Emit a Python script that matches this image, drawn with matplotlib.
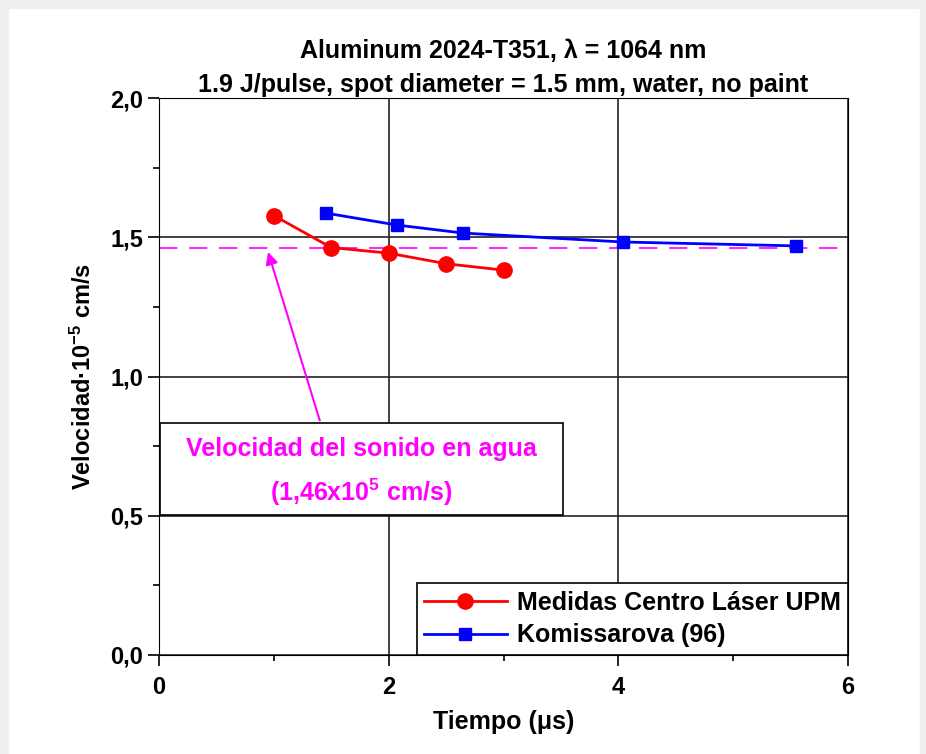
import matplotlib
matplotlib.use("Agg")
import matplotlib.pyplot as plt
from matplotlib.patches import Rectangle
from matplotlib.ticker import MultipleLocator, FuncFormatter

plt.rcParams['font.family'] = ['Liberation Sans', 'DejaVu Sans']
plt.rcParams['font.weight'] = 'bold'
plt.rcParams['mathtext.default'] = 'regular'

# datos
t_upm = [1.0, 1.5, 2.0, 2.5, 3.0]
v_upm = [1.578, 1.463, 1.443, 1.405, 1.382]
t_kom = [1.45, 2.07, 2.65, 4.04, 5.55]
v_kom = [1.587, 1.544, 1.515, 1.483, 1.469]
v_agua = 1.46

fig = plt.figure(figsize=(9.26, 7.54), dpi=100)
# marco gris de la diapositiva
fig.patches.append(Rectangle((0, 0.99), 1, 0.01, transform=fig.transFigure,
                             color='#efefef', zorder=-1))
fig.patches.append(Rectangle((0, 0), 0.009, 1, transform=fig.transFigure,
                             color='#efefef', zorder=-1))
fig.patches.append(Rectangle((0.994, 0), 0.006, 1, transform=fig.transFigure,
                             color='#efefef', zorder=-1))

ax = fig.add_axes([0.1717, 0.1313, 0.7441, 0.7387])
ax.set_xlim(0, 6)
ax.set_ylim(0, 2)

ax.grid(True, which='major', color='#222222', lw=1.2)
ax.axhline(v_agua, color='magenta', lw=1.2, dashes=(11, 7), zorder=2)

ax.plot(t_upm, v_upm, '-o', color='red', lw=2, ms=11, zorder=4,
        label='Medidas Centro Láser UPM')
ax.plot(t_kom, v_kom, '-s', color='blue', lw=2, ms=9, zorder=4,
        label='Komissarova (96)')

ax.xaxis.set_major_locator(MultipleLocator(2))
ax.xaxis.set_minor_locator(MultipleLocator(1))
ax.yaxis.set_major_locator(MultipleLocator(0.5))
ax.yaxis.set_minor_locator(MultipleLocator(0.25))
ax.yaxis.set_major_formatter(FuncFormatter(lambda v, p: f"{v:.1f}".replace('.', ',')))
ax.tick_params(which='major', direction='out', length=8, width=1.2, labelsize=17)
ax.tick_params(axis='x', which='major', pad=7)
ax.tick_params(which='minor', direction='out', length=4, width=1.2)
for lab in ax.get_xticklabels() + ax.get_yticklabels():
    lab.set_fontweight('bold')

ax.set_xlabel('Tiempo (μs)', fontsize=18, fontweight='bold', labelpad=8)
ax.set_ylabel('Velocidad·10$^{-5}$ cm/s', fontsize=17, fontweight='bold', labelpad=10)
ax.set_title('Aluminum 2024-T351, λ = 1064 nm\n1.9 J/pulse, spot diameter = 1.5 mm, water, no paint',
             fontsize=18, fontweight='bold', linespacing=1.55, pad=4)

leg = ax.legend(loc='lower right', fontsize=18, frameon=True, fancybox=False,
                edgecolor='black', borderaxespad=0, handlelength=3.3,
                borderpad=0.3, labelspacing=0.35, handletextpad=0.4)
leg.get_frame().set_linewidth(1.2)
leg.get_frame().set_alpha(1)
for txt in leg.get_texts():
    txt.set_fontweight('bold')

# recuadro de la nota
ax.add_patch(Rectangle((0.01, 0.503), 3.51, 0.330, fc='white', ec='black',
                       lw=1.2, zorder=5))
ax.text(1.765, 0.738, 'Velocidad del sonido en agua', ha='center', va='center',
        fontsize=18, fontweight='bold', color='magenta', zorder=6)
ax.text(1.765, 0.585, '(1,46x10$^{5}$ cm/s)', ha='center', va='center',
        fontsize=18, fontweight='bold', color='magenta', zorder=6)
ax.annotate('', xy=(0.95, 1.447), xytext=(1.40, 0.842),
            arrowprops=dict(arrowstyle='-|>', color='magenta', lw=1.5,
                            mutation_scale=18, shrinkA=0, shrinkB=0),
            zorder=6)

fig.savefig('out.png', dpi=100)
